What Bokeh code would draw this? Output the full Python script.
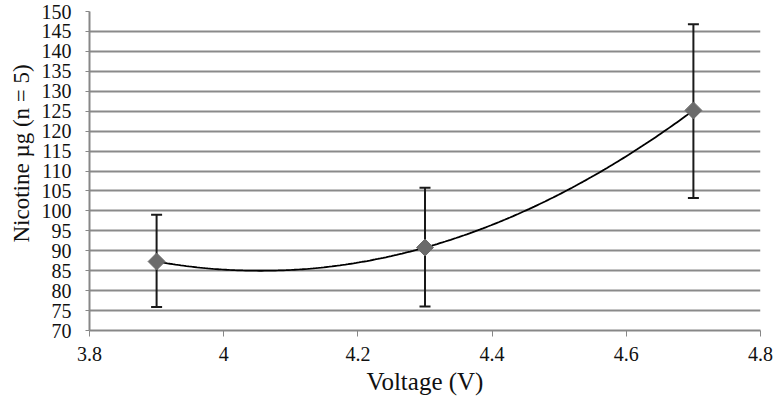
import numpy as np
from bokeh.plotting import figure
from bokeh.models import ColumnDataSource, Whisker, TeeHead, FixedTicker, Range1d, Title
from bokeh.embed import file_html
from bokeh.resources import INLINE

# Data
voltage = [3.9, 4.3, 4.7]
nicotine = [87.3, 90.8, 125.2]
err_low = [75.9, 76.0, 103.2]
err_high = [99.0, 105.8, 146.8]

x_ticks = [3.8, 4.0, 4.2, 4.4, 4.6, 4.8]
x_tick_labels = ["3.8", "4", "4.2", "4.4", "4.6", "4.8"]
y_ticks = list(range(70, 151, 5))

# quadratic trend line fitted to the data
coef = np.polyfit(voltage, nicotine, 2)
xs = np.linspace(min(voltage), max(voltage), 200)
ys = np.polyval(coef, xs)

p = figure(frame_width=671, frame_height=319, output_backend="svg", toolbar_location=None,
           x_range=Range1d(3.8, 4.8), y_range=Range1d(70, 150),
           min_border_left=89, min_border_right=13, min_border_top=11, min_border_bottom=71)
p.outline_line_color = None
p.background_fill_color = "white"
p.border_fill_color = "white"

font = "Liberation Serif"
for ax in (p.xaxis[0], p.yaxis[0]):
    ax.axis_line_color = "#878787"
    ax.axis_line_width = 2
    ax.major_tick_line_color = "#878787"
    ax.major_tick_line_width = 1
    ax.minor_tick_line_color = None
    ax.major_label_text_font = font
    ax.major_label_text_font_size = "20px"
    ax.major_label_text_color = "#111111"
    ax.axis_label_text_font = font
    ax.axis_label_text_font_style = "normal"
    ax.axis_label_text_color = "#111111"

p.xaxis.ticker = FixedTicker(ticks=x_ticks)
p.xaxis.major_label_overrides = {t: l for t, l in zip(x_ticks, x_tick_labels)}
p.xaxis.major_tick_in = 0
p.xaxis.major_tick_out = 6
p.xaxis.major_label_standoff = 10
p.xaxis.axis_label = "Voltage (V)"
p.xaxis.axis_label_text_font_size = "25px"
p.xaxis.axis_label_standoff = 4

p.yaxis.ticker = FixedTicker(ticks=y_ticks)
p.yaxis.major_tick_in = 0
p.yaxis.major_tick_out = 4
p.yaxis.major_label_standoff = 14
p.yaxis.axis_label_standoff = 0

p.xgrid.grid_line_color = None
p.ygrid.grid_line_color = "#8a8a8a"
p.ygrid.grid_line_width = 2

src = ColumnDataSource(dict(x=voltage, y=nicotine, lo=err_low, hi=err_high))

p.line(xs, ys, line_color="black", line_width=1.8)

w = Whisker(source=src, base="x", lower="lo", upper="hi", line_color="#1a1a1a", line_width=2,
            upper_head=TeeHead(size=11, line_color="#1a1a1a", line_width=2),
            lower_head=TeeHead(size=11, line_color="#1a1a1a", line_width=2))
p.add_layout(w)

p.scatter("x", "y", source=src, marker="square", angle=np.pi / 4, size=12,
          fill_color="#6b6b6b", line_color="#6b6b6b")

# y-axis title as a left-side title (placed slightly above the frame centre, like the reference)
ytitle = Title(text="Nicotine µg (n = 5)", align="left", offset=88, standoff=10,
               text_font=font, text_font_size="23px", text_font_style="normal",
               text_color="#111111")
p.add_layout(ytitle, "left")

open("out.html", "w").write(file_html(p, INLINE))
